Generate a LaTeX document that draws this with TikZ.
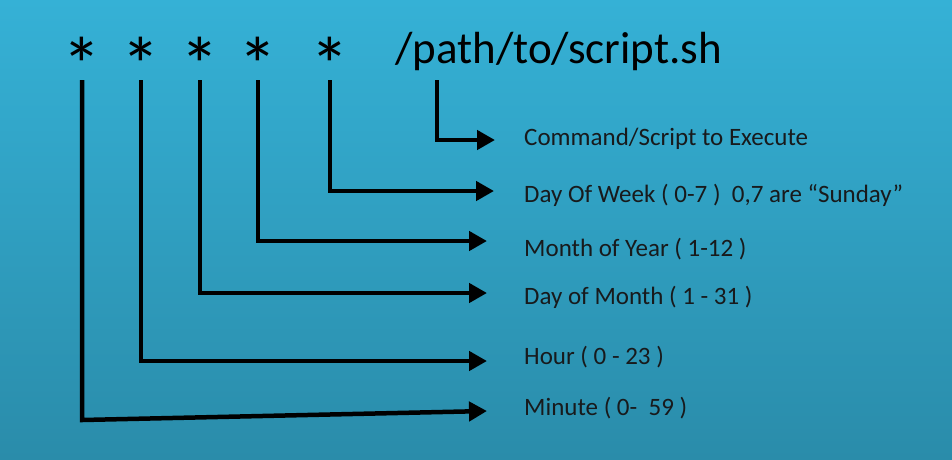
\documentclass[tikz,border=0pt]{standalone}
\usepackage{fontspec}
\setmainfont{Carlito}
\usepackage{xcolor}
\usepackage{tikz}
\usetikzlibrary{arrows.meta}

\definecolor{bgtop}{RGB}{53,177,214}
\definecolor{bgbot}{RGB}{42,140,170}
\definecolor{ink}{RGB}{24,26,28}

\begin{document}
\begin{tikzpicture}[x=1pt, y=-1pt,
  field/.style={inner sep=0pt, anchor=north, font=\fontsize{78}{78}\selectfont},
  label/.style={inner sep=0pt, anchor=base west, text=ink, font=\fontsize{25}{28}\selectfont},
  link/.style={line width=4.5pt, -{Triangle[length=18pt, width=19pt]}}]

\useasboundingbox (0,0) rectangle (952,459);
\shade[top color=bgtop, bottom color=bgbot] (0,0) rectangle (952,459);

% the five time fields and the command
\node[field] (min)  at (82,37)  {*};
\node[field] (hour) at (141,37) {*};
\node[field] (dom)  at (200,37) {*};
\node[field] (mon)  at (258,37) {*};
\node[field] (dow)  at (330,37) {*};
\node[inner sep=0pt, anchor=base west, font=\fontsize{45}{45}\selectfont] (cmd) at (395,63) {/path/to/script.sh};

% labels
\node[label] (lcmd)  at (524,145) {Command/Script to Execute};
\node[label] (ldow)  at (524,202) {Day Of Week ( 0-7 ) \ 0,7 are “Sunday”};
\node[label] (lmon)  at (524,256) {Month of Year ( 1-12 )};
\node[label] (ldom)  at (524,304) {Day of Month ( 1 - 31 )};
\node[label] (lhour) at (524,364) {Hour ( 0 - 23 )};
\node[label] (lmin)  at (524,415) {Minute ( 0- \ 59 )};

% arrows
\draw[link] (437,80) |- (495,140);
\draw[link] (dow.south |- 0,80) |- (494,191);
\draw[link] (mon.south |- 0,80) |- (487,241);
\draw[link] (dom.south |- 0,80) |- (487,293);
\draw[link] (hour.south |- 0,80) |- (487,361);
\draw[link] (min.south |- 0,80) -- (min.south |- 0,420) -- (487,411);

\end{tikzpicture}
\end{document}
